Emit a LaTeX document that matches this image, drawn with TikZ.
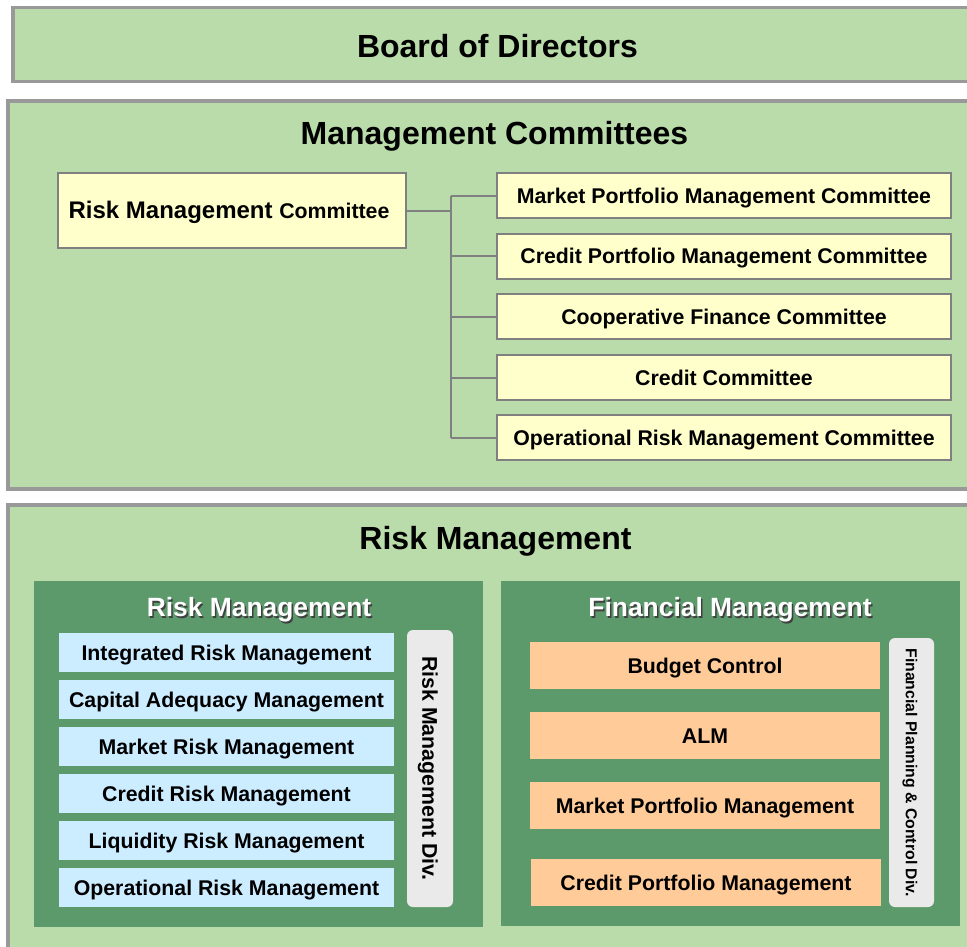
\documentclass[tikz,border=0pt]{standalone}
\usepackage{fontspec}
\setmainfont{Liberation Sans}
\usetikzlibrary{calc}
\definecolor{lightgreen}{RGB}{186,219,170}
\definecolor{framegray}{RGB}{153,153,153}
\definecolor{linegray}{RGB}{128,128,128}
\definecolor{paleyellow}{RGB}{255,255,204}
\definecolor{panelgreen}{RGB}{92,154,108}
\definecolor{paleblue}{RGB}{204,236,255}
\definecolor{paleorange}{RGB}{255,204,153}
\definecolor{divgray}{RGB}{234,234,234}
\newcommand{\fsz}[1]{\bfseries\fontsize{#1}{#1}\selectfont}
\tikzset{
  outerbox/.style={draw=framegray, line width=3.5pt, fill=lightgreen, inner sep=0pt},
  bigtitle/.style={font=\fsz{32}, inner sep=0pt, text height=22.9pt, text depth=0pt},
  commbox/.style={draw=linegray, line width=2pt, fill=paleyellow, inner sep=0pt,
    font=\fsz{21.3}, text height=15.25pt, text depth=0pt},
  panel/.style={fill=panelgreen, inner sep=0pt},
  paneltitle/.style={font=\fsz{26.4}, inner sep=0pt, text height=18.9pt, text depth=0pt, text=white},
  panelshadow/.style={paneltitle, text=black!75},
  bluebox/.style={fill=paleblue, inner sep=0pt, minimum width=335pt, minimum height=39.5pt,
    font=\fsz{21.3}, text height=15.25pt, text depth=0pt},
  orangebox/.style={fill=paleorange, inner sep=0pt, minimum width=350pt, minimum height=47pt,
    font=\fsz{21.3}, text height=15.25pt, text depth=0pt},
  divbox/.style={fill=divgray, rounded corners=6pt, inner sep=0pt, rotate=-90,
    text height=15.25pt, text depth=0pt},
  conn/.style={draw=linegray, line width=2pt}
}
\begin{document}
\begin{tikzpicture}[x=1pt,y=-1pt]
\useasboundingbox (0,0) rectangle (967,946);
\clip (0,0) rectangle (967,946);
% Board of Directors
\node[outerbox, minimum width=972pt, minimum height=74pt] (board) at (499,44.5) {};
\node[bigtitle] (boardt) at (497.5,46.5) {Board of Directors};
% Management Committees
\node[outerbox, minimum width=977pt, minimum height=388pt] (mc) at (496.5,295) {};
\node[bigtitle] (mct) at (494.5,133) {Management Committees};
\node[commbox, minimum width=348pt, minimum height=75pt] (rmc) at (232,210.5)
  {\fsz{24}Risk Management \fsz{21.3}Committee\kern6pt};
\node[commbox, minimum width=454pt, minimum height=45pt] (c1) at (724,195.5) {Market Portfolio Management Committee};
\node[commbox, minimum width=454pt, minimum height=45pt] (c2) at (724,256) {Credit Portfolio Management Committee};
\node[commbox, minimum width=454pt, minimum height=45pt] (c3) at (724,316.5) {Cooperative Finance Committee};
\node[commbox, minimum width=454pt, minimum height=45pt] (c4) at (724,377.5) {Credit Committee};
\node[commbox, minimum width=454pt, minimum height=45pt] (c5) at (724,437.5) {Operational Risk Management Committee};
\coordinate (trunk) at (451,210.5);
\draw[conn] (rmc.east) -- (trunk);
\draw[conn] (trunk |- c1.west) -- (trunk |- c5.west);
\foreach \c in {c1,c2,c3,c4,c5} { \draw[conn] (trunk |- \c.west) -- (\c.west); }
% Risk Management
\node[outerbox, minimum width=977pt, minimum height=455pt] (rm) at (496.5,732.5) {};
\node[bigtitle] (rmt) at (495.5,538) {Risk Management};
\node[panel, minimum width=449pt, minimum height=346pt] (lp) at (258.5,754) {};
\node[panel, minimum width=459pt, minimum height=345pt] (rp) at (730.5,753.5) {};
\node[panelshadow] (lpts) at (260.5,609) {Risk Management};
\node[paneltitle] (lpt) at (259,607.5) {Risk Management};
\node[panelshadow] (rpts) at (731.5,609) {Financial Management};
\node[paneltitle] (rpt) at (730,607.5) {Financial Management};
\node[bluebox] (b1) at (226.5,652.5) {Integrated Risk Management};
\node[bluebox] (b2) at (226.5,699.5) {Capital Adequacy Management};
\node[bluebox] (b3) at (226.5,746.5) {Market Risk Management};
\node[bluebox] (b4) at (226.5,793.5) {Credit Risk Management};
\node[bluebox] (b5) at (226.5,840.5) {Liquidity Risk Management};
\node[bluebox] (b6) at (226.5,887.5) {Operational Risk Management};
\node[divbox, minimum width=277pt, minimum height=46pt, font=\fsz{21.3}] (rmdiv) at (430,768.5) {Risk Management Div.};
\node[orangebox] (o1) at (705,665.5) {Budget Control};
\node[orangebox] (o2) at (705,735.5) {ALM};
\node[orangebox] (o3) at (705,805.5) {Market Portfolio Management};
\node[orangebox] (o4) at (706,882.5) {Credit Portfolio Management};
\node[divbox, minimum width=269pt, minimum height=45pt, font=\fsz{15.8}, text height=11.3pt] (fpdiv) at (911.5,772.5) {Financial Planning \& Control Div.};
\end{tikzpicture}
\end{document}
